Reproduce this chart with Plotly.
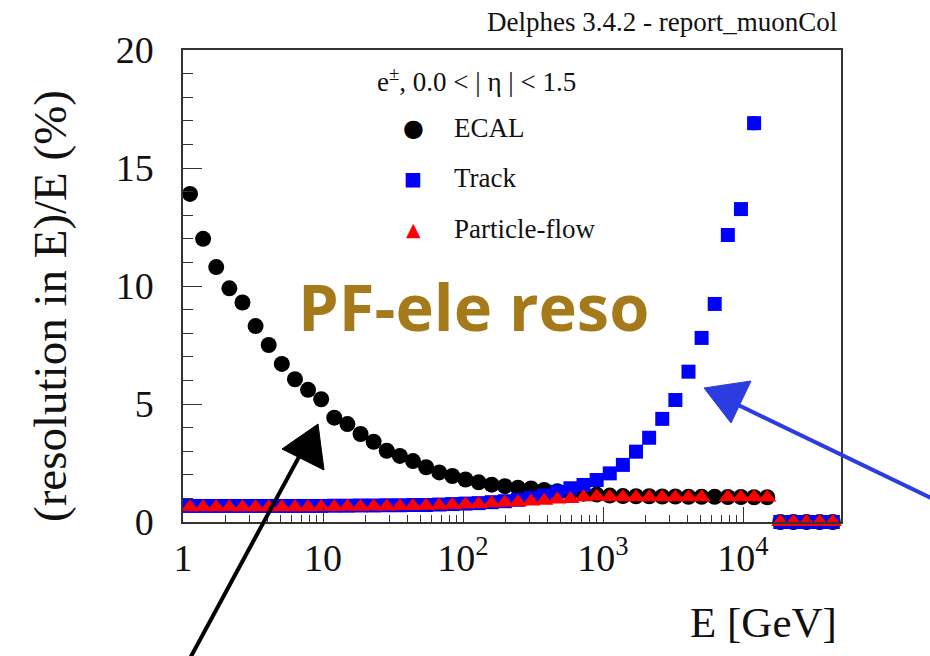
import plotly.graph_objects as go

# ---------------- data ----------------
energy = [1.122, 1.392, 1.727, 2.144, 2.660, 3.300, 4.095, 5.081, 6.304, 7.823,
          9.705, 12.04, 14.94, 18.54, 23.00, 28.54, 35.42, 43.95, 54.53, 67.67,
          83.95, 104.2, 129.3, 160.4, 199.0, 246.9, 306.4, 380.1, 471.7, 585.3,
          726.2, 901.1, 1118, 1387, 1721, 2136, 2650, 3288, 4080, 5062,
          6281, 7794, 9670, 12000, 14890, 18470, 22920, 28440, 35290, 43780]

ecal = [13.9, 12.0, 10.8, 9.9, 9.3, 8.3, 7.5, 6.7, 6.05, 5.6,
        5.2, 4.42, 4.15, 3.73, 3.4, 3.02, 2.8, 2.58, 2.32, 2.1,
        1.95, 1.8, 1.68, 1.58, 1.52, 1.45, 1.42, 1.36, 1.3, 1.25,
        1.2, 1.16, 1.12, 1.1, 1.09, 1.09, 1.08, 1.08, 1.07, 1.07,
        1.07, 1.06, 1.06, 1.05, 1.05, 0, 0, 0, 0, 0]

track = [0.68, 0.68, 0.68, 0.68, 0.68, 0.68, 0.68, 0.68, 0.68, 0.68,
         0.68, 0.69, 0.69, 0.70, 0.70, 0.71, 0.71, 0.72, 0.72, 0.74,
         0.76, 0.78, 0.80, 0.84, 0.88, 0.94, 1.02, 1.12, 1.28, 1.43,
         1.57, 1.78, 2.06, 2.42, 2.98, 3.57, 4.37, 5.17, 6.37, 7.8,
         9.24, 12.16, 13.26, 16.9, None, 0, 0, 0, 0, 0]

track_err = [0]*43 + [0.3] + [0]*6

pflow = [0.63, 0.63, 0.63, 0.63, 0.63, 0.63, 0.63, 0.63, 0.63, 0.63,
         0.64, 0.64, 0.65, 0.65, 0.66, 0.66, 0.67, 0.68, 0.69, 0.70,
         0.72, 0.74, 0.76, 0.79, 0.82, 0.84, 0.87, 0.90, 0.95, 0.97,
         1.05, 1.08, 1.06, 1.05, 1.05, 1.05, 1.05, 1.05, 1.05, 1.05,
         None, 1.05, 1.05, 1.05, 1.04, 0, 0, 0, 0, 0]

x_tickvals = [1, 10, 100, 1000, 10000]
x_ticktext = ["1", "10", "10<sup>2</sup>", "10<sup>3</sup>", "10<sup>4</sup>"]
y_tickvals = [0, 5, 10, 15, 20]

series_names = ["ECAL", "Track", "Particle-flow"]
series_colors = ["black", "#0000ff", "#ff0000"]
series_glyphs = ["\u25CF", "\u25A0", "\u25B2"]

# ---------------- layout helpers ----------------
W, H = 930, 656
L, R, T, B = 183, 841, 50, 522
def px(x):
    return (x - L) / (R - L)
def py(y):
    return (B - y) / (B - T)

SERIF = "Liberation Serif, Times New Roman, serif"

fig = go.Figure()
fig.add_trace(go.Scatter(x=energy, y=ecal, mode="markers", name="ECAL",
                         marker=dict(symbol="circle", size=16, color="black"),
                         cliponaxis=False))
fig.add_trace(go.Scatter(x=energy, y=track, mode="markers", name="Track",
                         marker=dict(symbol="square", size=14, color="#0000ff"),
                         error_y=dict(type="data", array=track_err, color="#0000ff",
                                      thickness=5, width=0),
                         cliponaxis=False))
fig.add_trace(go.Scatter(x=energy, y=pflow, mode="markers", name="Particle-flow",
                         marker=dict(symbol="triangle-up", size=16, color="#ff0000"),
                         cliponaxis=False))

annotations = []
# top-right label
annotations.append(dict(x=px(839), y=py(22), xref="paper", yref="paper",
                        text="Delphes 3.4.2 - report_muonCol", showarrow=False,
                        xanchor="right", yanchor="middle",
                        font=dict(family=SERIF, size=27, color="#111")))
# legend header
annotations.append(dict(x=px(476), y=py(80), xref="paper", yref="paper",
                        text="e<sup>\u00B1</sup>, 0.0 &lt; | \u03B7 | &lt; 1.5", showarrow=False,
                        xanchor="center", yanchor="middle",
                        font=dict(family=SERIF, size=27, color="#111")))
leg_y = [128, 178, 229]
glyph_sizes = [24, 19, 19]
for name, col, g, yy, gs in zip(series_names, series_colors, series_glyphs, leg_y, glyph_sizes):
    annotations.append(dict(x=px(413), y=py(yy), xref="paper", yref="paper",
                            text=g, showarrow=False, xanchor="center", yanchor="middle",
                            font=dict(family="DejaVu Sans", size=gs, color=col)))
    annotations.append(dict(x=px(452), y=py(yy), xref="paper", yref="paper",
                            text=name, showarrow=False, xanchor="left", yanchor="middle",
                            font=dict(family=SERIF, size=27, color="#111")))
# big overlay text
annotations.append(dict(x=px(296), y=py(306), xref="paper", yref="paper",
                        text="<b>PF-ele reso</b>", showarrow=False,
                        xanchor="left", yanchor="middle",
                        font=dict(family="Open Sans", size=65, color="#A57A1B")))
# axis titles
annotations.append(dict(x=px(839), y=py(622), xref="paper", yref="paper",
                        text="E [GeV]", showarrow=False, xanchor="right", yanchor="middle",
                        font=dict(family=SERIF, size=43, color="#111")))
annotations.append(dict(x=px(50), y=py(306), xref="paper", yref="paper",
                        text="(resolution in E)/E (%)", showarrow=False, textangle=-90,
                        xanchor="center", yanchor="middle",
                        font=dict(family=SERIF, size=47, color="#111")))

shapes = []
# black hand-drawn arrow
shapes.append(dict(type="line", xref="paper", yref="paper",
                   x0=px(188), y0=py(662), x1=px(300), y1=py(455),
                   line=dict(color="black", width=4), layer="above"))
shapes.append(dict(type="path", xref="paper", yref="paper",
                   path=f"M {px(282)},{py(449)} L {px(318)},{py(424)} L {px(324)},{py(470)} Z",
                   fillcolor="black", line=dict(color="black", width=1), layer="above"))
# blue hand-drawn arrow
shapes.append(dict(type="line", xref="paper", yref="paper",
                   x0=px(935), y0=py(500), x1=px(730), y1=py(401),
                   line=dict(color="#2b3de0", width=4), layer="above"))
shapes.append(dict(type="path", xref="paper", yref="paper",
                   path=f"M {px(704)},{py(388)} L {px(751)},{py(381)} L {px(731)},{py(423)} Z",
                   fillcolor="#2b3de0", line=dict(color="#2b3de0", width=1), layer="above"))

fig.update_layout(
    width=W, height=H,
    margin=dict(l=L, r=W - R, t=T, b=H - B, pad=0),
    paper_bgcolor="white", plot_bgcolor="white",
    showlegend=False,
    annotations=annotations,
    shapes=shapes,
    xaxis=dict(type="log", range=[0, 4.7], tickvals=x_tickvals, ticktext=x_ticktext,
               ticks="inside", ticklen=15, tickwidth=1, tickcolor="#333",
               minor=dict(ticks="inside", ticklen=7, tickwidth=1, tickcolor="#333",
                          dtick="D1", showgrid=False),
               showgrid=False, zeroline=False,
               showline=True, linecolor="#333", linewidth=1.5, mirror=True,
               ticklabelstandoff=2,
               tickfont=dict(family=SERIF, size=38, color="#111")),
    yaxis=dict(range=[0, 20], tickvals=y_tickvals,
               ticks="inside", ticklen=19, tickwidth=1, tickcolor="#333",
               minor=dict(ticks="inside", ticklen=10, tickwidth=1, tickcolor="#333",
                          dtick=1, showgrid=False),
               showgrid=False, zeroline=False,
               showline=True, linecolor="#333", linewidth=1.5, mirror=True,
               ticklabelstandoff=20,
               tickfont=dict(family=SERIF, size=38, color="#111")),
)

fig.write_html("out.html")
